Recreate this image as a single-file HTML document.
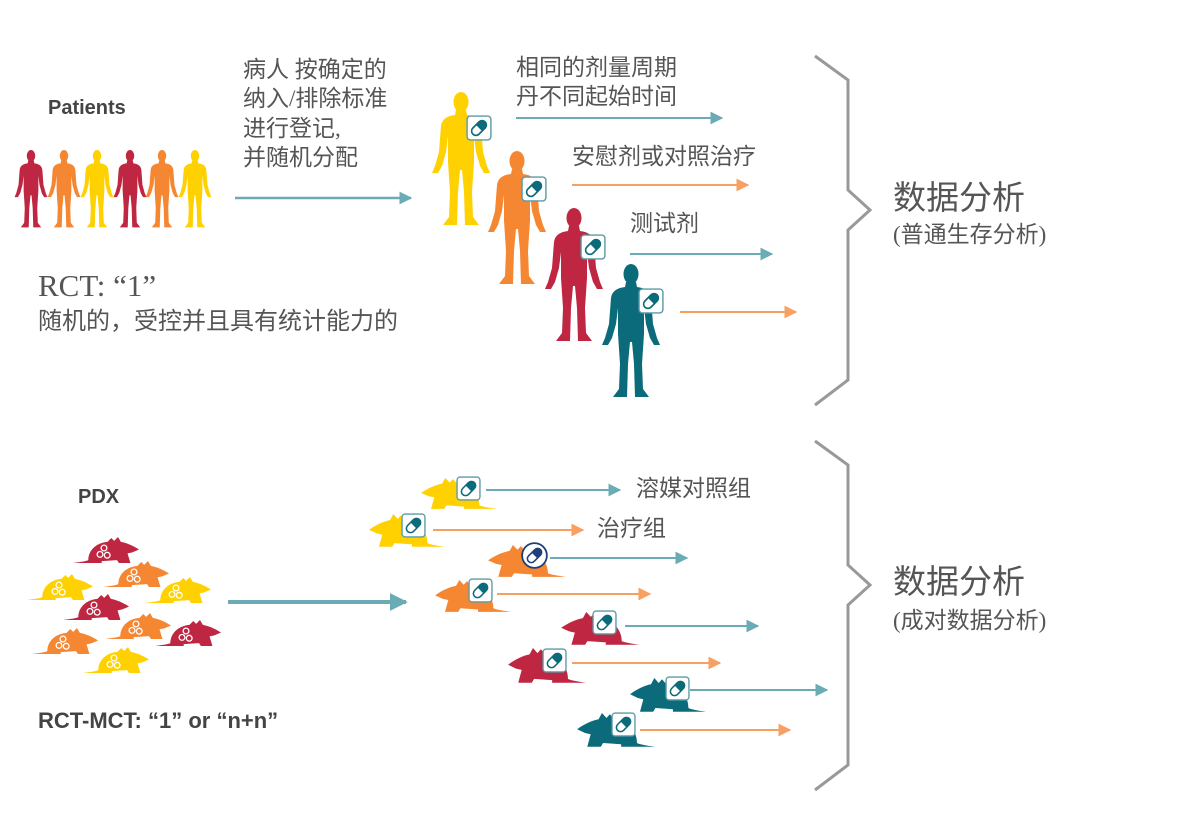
<!DOCTYPE html>
<html><head><meta charset="utf-8"><style>
html,body{margin:0;padding:0;background:#fff;width:1200px;height:825px;overflow:hidden}
text{font-family:"Liberation Sans","Noto Sans CJK SC",sans-serif;fill:#444}
.cn{font-family:"Liberation Serif","Noto Sans CJK SC",sans-serif;fill:#555}
</style></head><body>
<svg width="1200" height="825" viewBox="0 0 1200 825" xmlns="http://www.w3.org/2000/svg">
<defs>
<symbol id="man" viewBox="0 0 60 134" preserveAspectRatio="none">
<ellipse cx="30" cy="10" rx="7.5" ry="10"/>
<path d="M25,18 L35,18 L36,23 C44,24 49,27 50,34 L52,60 L56,74 L59,81 L53,81 L49,74 L45,60 L43,44 L43,70 L41,100 L42,125 L48,133 L34,133 L33,100 L31,78 L29,78 L27,100 L26,133 L12,133 L18,125 L19,100 L17,70 L17,44 L15,60 L11,74 L7,81 L1,81 L4,74 L8,60 L10,34 C11,27 16,24 24,23 Z"/>
</symbol>
<symbol id="mouse" viewBox="0 0 70 28" preserveAspectRatio="none">
<path d="M0,27 C8,26 14,25 16,24 C16,14 24,6 36,5 L40,1 L43,4 L47,0 L50,5 C56,6 63,9 69,13 L62,16 L57,17 L60,27 L48,27 L46,24 L30,25 L30,27 Z"/>
</symbol>
<symbol id="tum" viewBox="0 0 20 20">
<g fill="none" stroke="#fff" stroke-width="1.6"><circle cx="10" cy="5" r="3.6"/><circle cx="5" cy="13" r="3.6"/><circle cx="14" cy="14" r="3.6"/></g>
</symbol>
<symbol id="pill" viewBox="0 0 24 24">
<rect x="1" y="1" width="22" height="22" rx="3" fill="#fff" stroke="#5a9aa5" stroke-width="1.3"/>
<g transform="rotate(-45 12 12)"><rect x="4" y="8" width="16" height="8" rx="4" fill="#fff" stroke="#0b6b7a" stroke-width="1.5"/><path d="M12,8 L16,8 A4,4 0 0 1 16,16 L12,16 Z" fill="#0b6b7a"/></g>
</symbol>
<symbol id="pillc" viewBox="0 0 24 24">
<circle cx="12" cy="12" r="11" fill="#fff" stroke="#1d3f7a" stroke-width="1.6"/>
<g transform="rotate(-45 12 12)"><rect x="4.5" y="8.5" width="15" height="7" rx="3.5" fill="#fff" stroke="#1d3f7a" stroke-width="1.4"/><path d="M12,8.5 L16,8.5 A3.5,3.5 0 0 1 16,15.5 L12,15.5 Z" fill="#1d3f7a"/></g>
</symbol>
<marker id="at" viewBox="0 0 10 10" refX="9" refY="5" markerUnits="userSpaceOnUse" markerWidth="13" markerHeight="13" orient="auto"><path d="M0,0 L10,5 L0,10 Z" fill="#6aabb5"/></marker>
<marker id="ao" viewBox="0 0 10 10" refX="9" refY="5" markerUnits="userSpaceOnUse" markerWidth="13" markerHeight="13" orient="auto"><path d="M0,0 L10,5 L0,10 Z" fill="#f7a062"/></marker>
<marker id="atb" viewBox="0 0 10 10" refX="9" refY="5" markerUnits="userSpaceOnUse" markerWidth="18" markerHeight="20" orient="auto"><path d="M0,0 L10,5 L0,10 Z" fill="#6aabb5"/></marker>
</defs>

<text x="48" y="114" font-size="20" font-weight="bold">Patients</text>
<g>
<use href="#man" x="14" y="150" width="34" height="78" fill="#be2641"/>
<use href="#man" x="47" y="150" width="34" height="78" fill="#f58733"/>
<use href="#man" x="80" y="150" width="34" height="78" fill="#ffd100"/>
<use href="#man" x="113" y="150" width="34" height="78" fill="#be2641"/>
<use href="#man" x="145" y="150" width="34" height="78" fill="#f58733"/>
<use href="#man" x="178" y="150" width="34" height="78" fill="#ffd100"/>
</g>
<line x1="235" y1="198" x2="411" y2="198" stroke="#6aabb5" stroke-width="2.5" marker-end="url(#at)"/>
<g>
<text class="cn" x="243" y="77" font-size="23">病人 按确定的</text>
<text class="cn" x="243" y="106" font-size="23">纳入/排除标准</text>
<text class="cn" x="243" y="136" font-size="23">进行登记,</text>
<text class="cn" x="243" y="165" font-size="23">并随机分配</text>
</g>
<text class="cn" x="38" y="296" font-size="31">RCT: “1”</text>
<text class="cn" x="38" y="329" font-size="24">随机的，受控并且具有统计能力的</text>

<use href="#man" x="431" y="92" width="60" height="134" fill="#ffd100"/>
<use href="#man" x="487" y="151" width="60" height="134" fill="#f58733"/>
<use href="#man" x="544" y="208" width="60" height="134" fill="#be2641"/>
<use href="#man" x="601" y="264" width="60" height="134" fill="#0b6b7a"/>
<use href="#pill" x="466" y="115" width="26" height="26"/>
<use href="#pill" x="521" y="176" width="26" height="26"/>
<use href="#pill" x="580" y="234" width="26" height="26"/>
<use href="#pill" x="638" y="288" width="26" height="26"/>

<text class="cn" x="516" y="75" font-size="23">相同的剂量周期</text>
<text class="cn" x="516" y="104" font-size="23">丹不同起始时间</text>
<line x1="516" y1="118" x2="722" y2="118" stroke="#6aabb5" stroke-width="2" marker-end="url(#at)"/>
<text class="cn" x="572" y="164" font-size="23">安慰剂或对照治疗</text>
<line x1="572" y1="185" x2="748" y2="185" stroke="#f7a062" stroke-width="2" marker-end="url(#ao)"/>
<text class="cn" x="630" y="231" font-size="23">测试剂</text>
<line x1="630" y1="254" x2="772" y2="254" stroke="#6aabb5" stroke-width="2" marker-end="url(#at)"/>
<line x1="680" y1="312" x2="796" y2="312" stroke="#f7a062" stroke-width="2" marker-end="url(#ao)"/>

<path d="M815,56 L848,80 L848,190 L870,210 L848,230 L848,380 L815,405" fill="none" stroke="#999" stroke-width="3"/>
<text class="cn" x="893" y="209" font-size="33">数据分析</text>
<text class="cn" x="893" y="242" font-size="23">(普通生存分析)</text>

<text x="78" y="503" font-size="20" font-weight="bold">PDX</text>
<g>
<use href="#mouse" x="73" y="537" width="67" height="27" fill="#be2641"/>
<use href="#mouse" x="103" y="561" width="67" height="27" fill="#f58733"/>
<use href="#mouse" x="27" y="574" width="67" height="27" fill="#ffd100"/>
<use href="#mouse" x="145" y="577" width="67" height="27" fill="#ffd100"/>
<use href="#mouse" x="63" y="594" width="67" height="27" fill="#be2641"/>
<use href="#mouse" x="105" y="613" width="67" height="27" fill="#f58733"/>
<use href="#mouse" x="155" y="620" width="67" height="27" fill="#be2641"/>
<use href="#mouse" x="32" y="628" width="67" height="27" fill="#f58733"/>
<use href="#mouse" x="83" y="647" width="67" height="27" fill="#ffd100"/>
<use href="#tum" x="96" y="544" width="16" height="16"/>
<use href="#tum" x="126" y="568" width="16" height="16"/>
<use href="#tum" x="51" y="581" width="16" height="16"/>
<use href="#tum" x="168" y="584" width="16" height="16"/>
<use href="#tum" x="86" y="601" width="16" height="16"/>
<use href="#tum" x="128" y="620" width="16" height="16"/>
<use href="#tum" x="178" y="627" width="16" height="16"/>
<use href="#tum" x="55" y="635" width="16" height="16"/>
<use href="#tum" x="106" y="654" width="16" height="16"/>
</g>
<line x1="228" y1="602" x2="406" y2="602" stroke="#6aabb5" stroke-width="4" marker-end="url(#atb)"/>
<text x="38" y="728" font-size="22" font-weight="bold">RCT-MCT: “1” or “n+n”</text>

<g transform="translate(497,478) scale(-1,1)"><use href="#mouse" width="77" height="32" fill="#ffd100"/></g>
<g transform="translate(445,514) scale(-1,1)"><use href="#mouse" width="77" height="34" fill="#ffd100"/></g>
<g transform="translate(566,545) scale(-1,1)"><use href="#mouse" width="79" height="33" fill="#f58733"/></g>
<g transform="translate(511,580) scale(-1,1)"><use href="#mouse" width="77" height="33" fill="#f58733"/></g>
<g transform="translate(640,612) scale(-1,1)"><use href="#mouse" width="80" height="34" fill="#be2641"/></g>
<g transform="translate(586,648) scale(-1,1)"><use href="#mouse" width="79" height="36" fill="#be2641"/></g>
<g transform="translate(706,678) scale(-1,1)"><use href="#mouse" width="77" height="35" fill="#0b6b7a"/></g>
<g transform="translate(655,713) scale(-1,1)"><use href="#mouse" width="79" height="35" fill="#0b6b7a"/></g>

<use href="#pill" x="456" y="476" width="25" height="25"/>
<use href="#pill" x="401" y="513" width="25" height="25"/>
<use href="#pillc" x="521" y="542" width="27" height="27"/>
<use href="#pill" x="468" y="578" width="25" height="25"/>
<use href="#pill" x="592" y="610" width="25" height="25"/>
<use href="#pill" x="542" y="648" width="25" height="25"/>
<use href="#pill" x="665" y="676" width="25" height="25"/>
<use href="#pill" x="611" y="712" width="25" height="25"/>

<line x1="486" y1="490" x2="620" y2="490" stroke="#6aabb5" stroke-width="2" marker-end="url(#at)"/>
<text class="cn" x="636" y="496" font-size="23">溶媒对照组</text>
<line x1="433" y1="530" x2="583" y2="530" stroke="#f7a062" stroke-width="2" marker-end="url(#ao)"/>
<text class="cn" x="597" y="536" font-size="23">治疗组</text>
<line x1="550" y1="558" x2="687" y2="558" stroke="#6aabb5" stroke-width="2" marker-end="url(#at)"/>
<line x1="497" y1="594" x2="650" y2="594" stroke="#f7a062" stroke-width="2" marker-end="url(#ao)"/>
<line x1="625" y1="626" x2="758" y2="626" stroke="#6aabb5" stroke-width="2" marker-end="url(#at)"/>
<line x1="572" y1="663" x2="720" y2="663" stroke="#f7a062" stroke-width="2" marker-end="url(#ao)"/>
<line x1="690" y1="690" x2="827" y2="690" stroke="#6aabb5" stroke-width="2" marker-end="url(#at)"/>
<line x1="640" y1="730" x2="790" y2="730" stroke="#f7a062" stroke-width="2" marker-end="url(#ao)"/>

<path d="M815,441 L848,465 L848,565 L870,585 L848,605 L848,765 L815,790" fill="none" stroke="#999" stroke-width="3"/>
<text class="cn" x="893" y="593" font-size="33">数据分析</text>
<text class="cn" x="893" y="628" font-size="23">(成对数据分析)</text>
</svg>
</body></html>
